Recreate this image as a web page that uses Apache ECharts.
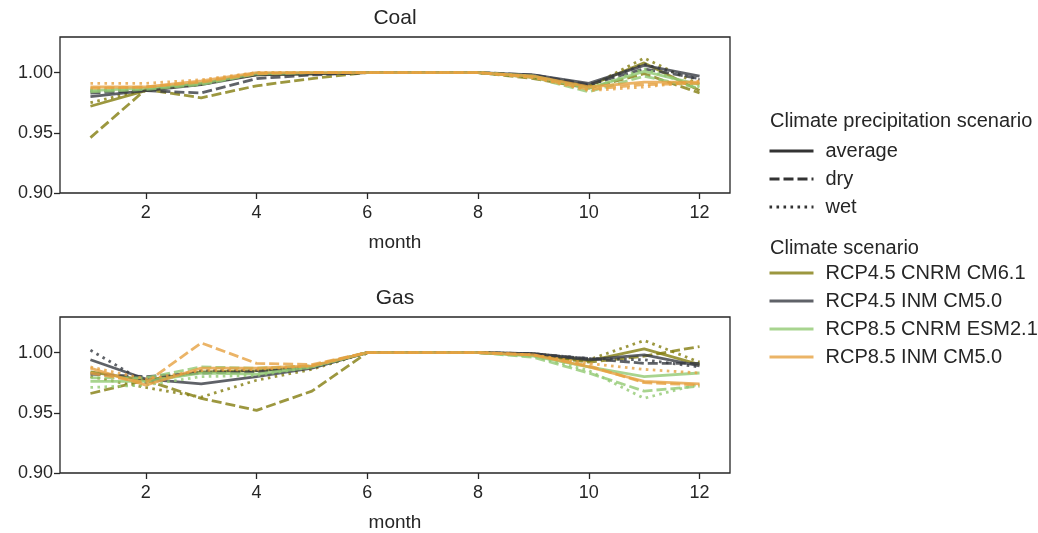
<!DOCTYPE html>
<html>
<head>
<meta charset="utf-8">
<script src="https://cdn.jsdelivr.net/npm/echarts@6/dist/echarts.min.js"></script>
<style>
  html, body { margin: 0; padding: 0; background: #fff; }
  #chart { width: 1038px; height: 533px; }
</style>
</head>
<body>
<div id="chart"></div>
<script>
// Monthly capacity factors relative to baseline, per fuel, climate model and precipitation case.
const months = [1, 2, 3, 4, 5, 6, 7, 8, 9, 10, 11, 12];
const xTicks = [2, 4, 6, 8, 10, 12];
const yTicks = [0.90, 0.95, 1.00];
const scenarios = ['RCP4.5 CNRM CM6.1', 'RCP4.5 INM CM5.0', 'RCP8.5 CNRM ESM2.1', 'RCP8.5 INM CM5.0'];
const precipCases = ['average', 'dry', 'wet'];

// Coal: [average, dry, wet] per scenario
const coalRcp45Cnrm = [
  [0.972, 0.985, 0.991, 0.998, 0.999, 1.000, 1.000, 1.000, 0.997, 0.989, 1.008, 0.985],
  [0.946, 0.986, 0.979, 0.989, 0.995, 1.000, 1.000, 1.000, 0.995, 0.987, 0.999, 0.983],
  [0.975, 0.986, 0.990, 0.999, 0.999, 1.000, 1.000, 1.000, 0.996, 0.988, 1.012, 0.990]
];
const coalRcp45Inm = [
  [0.980, 0.985, 0.990, 0.998, 0.999, 1.000, 1.000, 1.000, 0.998, 0.991, 1.006, 0.997],
  [0.983, 0.985, 0.983, 0.995, 0.998, 1.000, 1.000, 1.000, 0.998, 0.990, 1.003, 0.995],
  [0.985, 0.986, 0.991, 0.999, 0.999, 1.000, 1.000, 1.000, 0.997, 0.989, 1.007, 0.994]
];
const coalRcp85Cnrm = [
  [0.985, 0.987, 0.991, 0.999, 1.000, 1.000, 1.000, 1.000, 0.997, 0.987, 1.001, 0.990],
  [0.984, 0.986, 0.990, 0.999, 1.000, 1.000, 1.000, 1.000, 0.996, 0.984, 0.997, 0.987],
  [0.986, 0.988, 0.992, 1.000, 1.000, 1.000, 1.000, 1.000, 0.997, 0.986, 1.003, 0.988]
];
const coalRcp85Inm = [
  [0.988, 0.988, 0.993, 1.000, 1.000, 1.000, 1.000, 1.000, 0.997, 0.988, 0.992, 0.992],
  [0.987, 0.988, 0.992, 0.999, 1.000, 1.000, 1.000, 1.000, 0.996, 0.986, 0.990, 0.991],
  [0.991, 0.991, 0.994, 1.000, 1.000, 1.000, 1.000, 1.000, 0.996, 0.985, 0.988, 0.993]
];

// Gas: [average, dry, wet] per scenario
const gasRcp45Cnrm = [
  [0.984, 0.977, 0.984, 0.985, 0.988, 1.000, 1.000, 1.000, 0.998, 0.993, 1.003, 0.990],
  [0.966, 0.977, 0.962, 0.952, 0.968, 1.000, 1.000, 1.000, 0.998, 0.992, 0.997, 1.005],
  [0.980, 0.971, 0.963, 0.977, 0.986, 1.000, 1.000, 1.000, 0.999, 0.994, 1.010, 0.992]
];
const gasRcp45Inm = [
  [0.994, 0.978, 0.974, 0.980, 0.987, 1.000, 1.000, 1.000, 0.999, 0.994, 0.998, 0.989],
  [0.982, 0.980, 0.983, 0.984, 0.988, 1.000, 1.000, 1.000, 0.999, 0.995, 0.991, 0.991],
  [1.002, 0.975, 0.985, 0.985, 0.988, 1.000, 1.000, 1.000, 0.999, 0.995, 0.994, 0.988]
];
const gasRcp85Cnrm = [
  [0.976, 0.976, 0.983, 0.982, 0.988, 1.000, 1.000, 1.000, 0.997, 0.988, 0.980, 0.983],
  [0.979, 0.979, 0.988, 0.987, 0.989, 1.000, 1.000, 1.000, 0.996, 0.983, 0.968, 0.972],
  [0.971, 0.973, 0.980, 0.981, 0.988, 1.000, 1.000, 1.000, 0.997, 0.985, 0.962, 0.974]
];
const gasRcp85Inm = [
  [0.987, 0.973, 0.987, 0.987, 0.989, 1.000, 1.000, 1.000, 0.998, 0.988, 0.976, 0.974],
  [0.983, 0.975, 1.008, 0.991, 0.990, 1.000, 1.000, 1.000, 0.998, 0.989, 0.975, 0.973],
  [0.988, 0.978, 0.985, 0.986, 0.989, 1.000, 1.000, 1.000, 0.998, 0.991, 0.986, 0.983]
];

const coalData = [coalRcp45Cnrm, coalRcp45Inm, coalRcp85Cnrm, coalRcp85Inm];
const gasData = [gasRcp45Cnrm, gasRcp45Inm, gasRcp85Cnrm, gasRcp85Inm];

const palette = ['#837d0f', '#373b42', '#92c973', '#e6a141'];
const dashes = ['solid', [10, 4], [2.6, 4.4]];
const ink = '#262626';
const font = "'Liberation Sans', Arial, sans-serif";
const lineWidth = 2.8;

function buildSeries(panel, gridIdx) {
  const out = [];
  panel.forEach((cases, si) => {
    cases.forEach((vals, ci) => {
      out.push({
        type: 'line',
        name: scenarios[si],
        xAxisIndex: gridIdx,
        yAxisIndex: gridIdx,
        symbol: 'none',
        silent: true,
        color: palette[si],
        lineStyle: { color: palette[si], width: lineWidth, type: dashes[ci], opacity: 0.8, cap: 'butt' },
        data: months.map((m, i) => [m, vals[i]])
      });
    });
  });
  return out;
}

// Style-only entries used by the precipitation legend
const styleSeries = precipCases.map((name, ci) => ({
  type: 'line',
  name: name,
  xAxisIndex: 0,
  yAxisIndex: 0,
  symbol: 'none',
  color: '#333333',
  lineStyle: { color: '#333333', width: lineWidth, type: dashes[ci] },
  data: []
}));

function xAxisFor(gridIndex) {
  return {
    type: 'value', gridIndex, min: 0.45, max: 12.55,
    axisLine: { show: false },
    splitLine: { show: false },
    axisTick: { show: true, length: 6, lineStyle: { color: ink, width: 1.3 }, customValues: xTicks },
    axisLabel: { customValues: xTicks, color: ink, fontSize: 18, fontFamily: font, margin: 11 },
    name: 'month', nameLocation: 'middle', nameGap: 40,
    nameTextStyle: { color: ink, fontSize: 19, fontFamily: font }
  };
}
function yAxisFor(gridIndex) {
  return {
    type: 'value', gridIndex, min: 0.90, max: 1.0295,
    axisLine: { show: false },
    splitLine: { show: false },
    axisTick: { show: true, length: 6, lineStyle: { color: ink, width: 1.3 }, customValues: yTicks },
    axisLabel: { customValues: yTicks, color: ink, fontSize: 18, fontFamily: font, margin: 7,
      formatter: v => v.toFixed(2) }
  };
}

const legendText = { color: ink, fontSize: 20, fontFamily: font, padding: [0, 0, 0, 7] };
const legendBase = {
  orient: 'vertical', left: 768, padding: 0,
  itemWidth: 44, itemHeight: 20, itemGap: 8, selectedMode: false,
  itemStyle: { opacity: 0 },
  lineStyle: { width: 3 },
  textStyle: legendText
};

const option = {
  animation: false,
  backgroundColor: '#ffffff',
  title: [
    { text: 'Coal', left: 395, top: 8, textAlign: 'center', padding: 0,
      textStyle: { color: ink, fontSize: 21, fontWeight: 'normal', fontFamily: font } },
    { text: 'Gas', left: 395, top: 288, textAlign: 'center', padding: 0,
      textStyle: { color: ink, fontSize: 21, fontWeight: 'normal', fontFamily: font } },
    { text: 'Climate precipitation scenario', left: 770, top: 111, padding: 0,
      textStyle: { color: ink, fontSize: 20, fontWeight: 'normal', fontFamily: font } },
    { text: 'Climate scenario', left: 770, top: 238, padding: 0,
      textStyle: { color: ink, fontSize: 20, fontWeight: 'normal', fontFamily: font } }
  ],
  grid: [
    { left: 60, top: 37, width: 670, height: 156, show: true, borderColor: ink, borderWidth: 1.3 },
    { left: 60, top: 317, width: 670, height: 156, show: true, borderColor: ink, borderWidth: 1.3 }
  ],
  xAxis: [xAxisFor(0), xAxisFor(1)],
  yAxis: [yAxisFor(0), yAxisFor(1)],
  legend: [
    Object.assign({ data: precipCases, top: 141 }, legendBase),
    Object.assign({ data: scenarios, top: 263 }, legendBase)
  ],
  series: [...buildSeries(coalData, 0), ...buildSeries(gasData, 1), ...styleSeries]
};

const chart = echarts.init(document.getElementById('chart'), null, { renderer: 'canvas' });
chart.setOption(option);
</script>
</body>
</html>
